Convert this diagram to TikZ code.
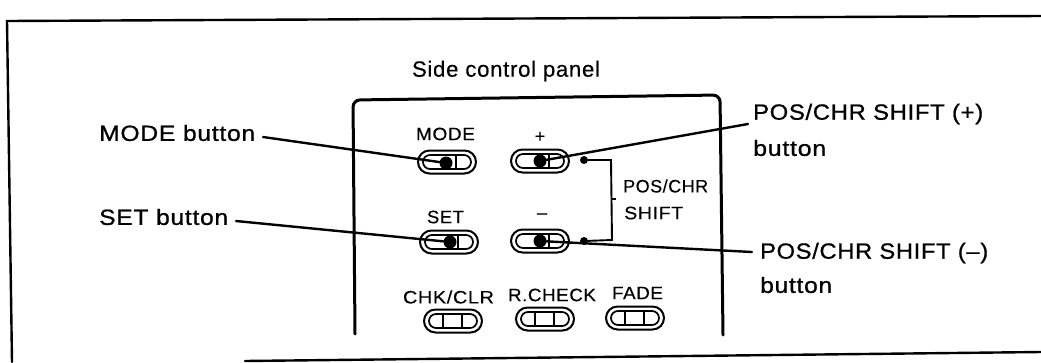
\documentclass[tikz,border=0pt]{standalone}
\usepackage{fontspec}
\usepackage{graphicx}
\setmainfont[LetterSpace=3,FakeBold=0.3]{Liberation Sans}
\newfontfamily\boldish[LetterSpace=3,FakeBold=0.9]{Liberation Sans}
\usetikzlibrary{shapes.misc}
\newcommand{\fitw}[2]{\resizebox{#1pt}{\height}{#2}}
\tikzset{
  pill/.style={draw=black,line width=2pt,shape=rounded rectangle,minimum width=58pt,minimum height=23pt,inner sep=0pt,fill=white},
  pillin/.style={draw=black,line width=1.7pt,shape=rounded rectangle,minimum width=48pt,minimum height=14pt,inner sep=0pt},
  bar/.style={line width=1.6pt},
  frameline/.style={line width=2.4pt,line cap=round},
  panelline/.style={line width=3pt,line cap=round},
  leader/.style={line width=2.4pt,line cap=round},
  press/.style={circle,fill=black,inner sep=0pt,minimum size=13pt},
  junction/.style={circle,fill=black,inner sep=0pt,minimum size=8pt},
  wire/.style={line width=1.9pt},
  biglabel/.style={inner sep=0pt,font=\boldish\fontsize{22}{24}\selectfont,anchor=west},
  titlelabel/.style={inner sep=0pt,font=\fontsize{22}{24}\selectfont},
  smalllabel/.style={inner sep=0pt,font=\fontsize{18}{20}\selectfont},
}
\newcommand{\btnbase}[3]{%
  \node[pill] (#1) at (#2,#3) {};
  \node[pillin] (#1in) at (#2,#3) {};
  \draw[bar] ([xshift=9pt]#1in.north) -- ([xshift=9pt]#1in.south);
}
\newcommand{\btn}[3]{%
  \btnbase{#1}{#2}{#3}
  \draw[bar] ([xshift=-10pt]#1in.north) -- ([xshift=-10pt]#1in.south);
}
\begin{document}
\begin{tikzpicture}[x=1pt,y=-1pt]
\useasboundingbox (0,0) rectangle (1041,362);
% outer frame
\coordinate (fa) at (1041,16);
\coordinate (fb) at (7,21);
\coordinate (fc) at (12,362);
\coordinate (fd) at (245,361);
\coordinate (fe) at (1041,352);
\draw[frameline] (fa) -- (fb) -- (fc);
\draw[frameline] (fd) -- (fe);
% panel
\coordinate (pa) at (355,334);
\coordinate (pb) at (353,100);
\coordinate (pc) at (720,95);
\coordinate (pd) at (723,335);
\draw[panelline,rounded corners=7pt] (pa) -- (pb) -- (pc) -- (pd);
% buttons
\btnbase{mode}{447}{162}
\btnbase{plus}{540}{161}
\btnbase{set}{449}{242}
\btnbase{minus}{540}{241}
\btn{chk}{453}{321}
\btn{rchk}{545}{319}
\btn{fade}{635}{318}
\node[press] (modedot) at (446,163) {};
\node[press] (plusdot) at (540,161) {};
\node[press] (setdot) at (450,242) {};
\node[press] (minusdot) at (540,241) {};
% junctions and bracket
\node[junction] (ju) at (584,160) {};
\node[junction] (jl) at (584,241) {};
\coordinate (bu) at (611,160);
\coordinate (bl) at (612,240);
\coordinate (tk) at (611.5,199);
\coordinate (tke) at (616,199);
\draw[wire] (ju) -- (bu) -- (bl) -- (jl);
\draw[wire] (tk) -- (tke);
% labels
\node[titlelabel] (title) at (506,71) {\fitw{188}{Side control panel}};
\node[biglabel] (lmode) at (99,133) {\fitw{156}{MODE button}};
\node[biglabel] (lset) at (99,217) {\fitw{129}{SET button}};
\node[biglabel] (lplus) at (753,114) {\fitw{230}{POS/CHR SHIFT (+)}};
\node[biglabel] (lplusb) at (753,148) {\fitw{73}{button}};
\node[biglabel] (lminus) at (760,253) {\fitw{228}{POS/CHR SHIFT (–)}};
\node[biglabel] (lminusb) at (760,285) {\fitw{72}{button}};
\node[smalllabel] (tmode) at (445.5,134) {\fitw{59}{MODE}};
\node[smalllabel] (tset) at (445.5,217) {\fitw{37}{SET}};
\node[smalllabel] (tplus) at (540,137) {+};
\node[smalllabel] (tminus) at (542,216) {–};
\node[smalllabel] (tchk) at (448.5,297) {\fitw{91}{CHK/CLR}};
\node[smalllabel] (trchk) at (552,295) {\fitw{88}{R.CHECK}};
\node[smalllabel] (tfade) at (637.5,293) {\fitw{51}{FADE}};
\node[smalllabel,anchor=west] (tpos) at (623,186) {\fitw{85}{POS/CHR}};
\node[smalllabel,anchor=west] (tshift) at (624,213) {\fitw{59}{SHIFT}};
% leaders
\coordinate (emode) at (263,137);
\coordinate (eset) at (236,221);
\coordinate (eplus) at (748,124);
\coordinate (eminus) at (752,252);
\draw[leader] (emode) -- (modedot);
\draw[leader] (eset) -- (setdot);
\draw[leader] (eplus) -- (plusdot);
\draw[leader] (eminus) -- (minusdot);
\end{tikzpicture}
\end{document}
